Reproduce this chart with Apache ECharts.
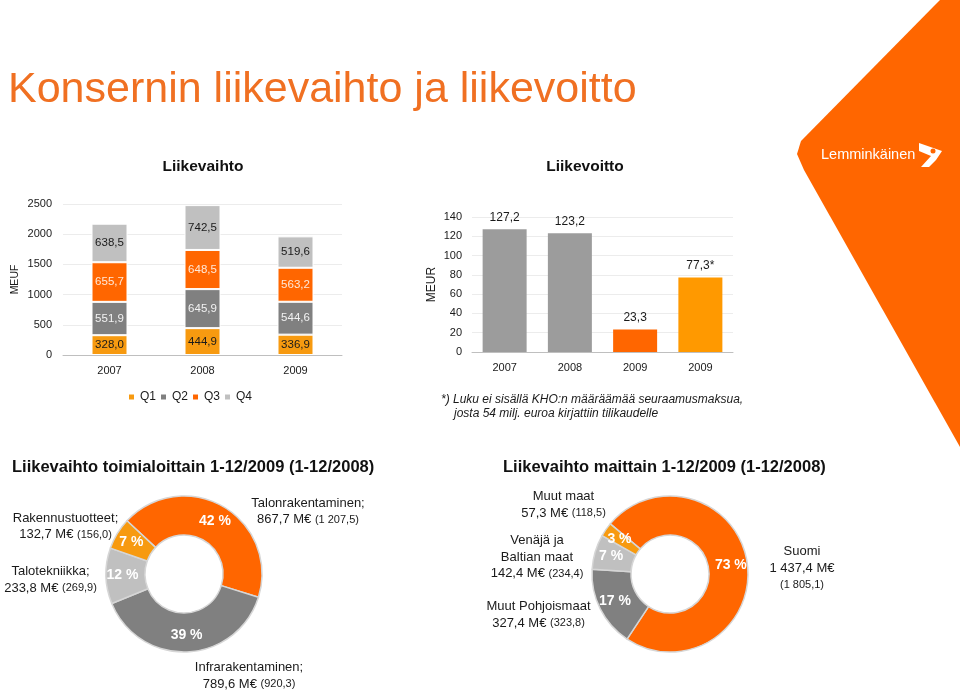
<!DOCTYPE html>
<html><head><meta charset="utf-8">
<script src="https://cdn.jsdelivr.net/npm/echarts@6/dist/echarts.min.js"></script>
<style>html,body{margin:0;padding:0;background:#fff}#c{width:960px;height:692px}</style>
</head><body><div id="c"></div>
<script>
// ---- data ----
const years = ['2007', '2008', '2009'];
const quarterNames = ['Q1', 'Q2', 'Q3', 'Q4'];
const q1 = [328.0, 444.9, 336.9];
const q2 = [551.9, 645.9, 544.6];
const q3 = [655.7, 648.5, 563.2];
const q4 = [638.5, 742.5, 519.6];
const revTicks = [0, 2500, 500];
const profitYears = ['2007', '2008', '2009', '2009'];
const profit = [127.2, 123.2, 23.3, 77.3];
const profitSuffix = ['', '', '', '*'];
const profitTicks = [0, 140, 20];
const segNames = ['Talonrakentaminen;', 'Infrarakentaminen;', 'Talotekniikka;', 'Rakennustuotteet;'];
const segValues = [867.7, 789.6, 233.8, 132.7];
const segPrev = [1207.5, 920.3, 269.9, 156.0];
const segPct = [42, 39, 12, 7];
const countryNames = ['Suomi', 'Muut Pohjoismaat', 'Venäjä ja\nBaltian maat', 'Muut maat'];
const countryValues = [1437.4, 327.4, 142.4, 57.3];
const countryPrev = [1805.1, 323.8, 234.4, 118.5];
const countryPct = [73, 17, 7, 3];
const footnote = ['*) Luku ei sisällä KHO:n määräämää seuraamusmaksua,', 'josta 54 milj. euroa kirjattiin tilikaudelle'];

// ---- styles ----
const FONT = 'Liberation Sans, Arial, Helvetica, sans-serif';
const ORANGE = '#FF6600', YEL = '#F79A10', DGRAY = '#808080', LGRAY = '#C0C0C0';
const qColors = [YEL, DGRAY, ORANGE, LGRAY];
const qLabelColors = ['#1a1a1a', '#f2f2f2', '#ffe8d8', '#1a1a1a'];
const profitColors = ['#9C9C9C', '#9C9C9C', ORANGE, '#FF9900'];
const segColors = [ORANGE, DGRAY, LGRAY, YEL];
const countryColors = [ORANGE, DGRAY, LGRAY, YEL];
const segLayout = [{x: 308, y: 511.5}, {x: 249, y: 676}, {x: 50.5, y: 580}, {x: 65.5, y: 526.5}];
const countryLayout = [{x: 802, y: 568, split: true}, {x: 538.5, y: 615}, {x: 537, y: 557}, {x: 563.5, y: 505}];

function fmt(v) {
  const parts = v.toFixed(1).split('.');
  return parts[0].replace(/\B(?=(\d{3})+(?!\d))/g, ' ') + ',' + parts[1];
}

const chart = echarts.init(document.getElementById('c'), null, {renderer: 'canvas'});

const richStyles = {
  n: {fontSize: 13, lineHeight: 16.5, fontFamily: FONT, fill: '#1a1a1a', color: '#1a1a1a'},
  v: {fontSize: 13, lineHeight: 16.5, fontFamily: FONT, fill: '#1a1a1a', color: '#1a1a1a'},
  p: {fontSize: 11, lineHeight: 16.5, fontFamily: FONT, fill: '#1a1a1a', color: '#1a1a1a'}
};

function outerLabel(name, val, prev, lay) {
  const nameLines = name.split('\n').map(s => '{n|' + s + '}');
  let lines;
  if (lay.split) lines = nameLines.concat(['{v|' + fmt(val) + ' M€}', '{p|(' + fmt(prev) + ')}']);
  else lines = nameLines.concat(['{v|' + fmt(val) + ' M€ }{p|(' + fmt(prev) + ')}']);
  return {
    type: 'text', x: lay.x, y: lay.y, silent: true,
    style: {text: lines.join('\n'), textAlign: 'center', textVerticalAlign: 'middle', rich: richStyles,
      fontSize: 13, fontFamily: FONT, fill: '#1a1a1a'}
  };
}

const graphics = [
  {type: 'text', x: 8, y: 90, style: {text: 'Konsernin liikevaihto ja liikevoitto', fontSize: 43, fontFamily: FONT, fill: '#F07022', textVerticalAlign: 'middle'}},
  {type: 'text', x: 203, y: 167, style: {text: 'Liikevaihto', fontSize: 15.5, fontWeight: 'bold', fontFamily: FONT, fill: '#111', textAlign: 'center', textVerticalAlign: 'middle'}},
  {type: 'text', x: 585, y: 167, style: {text: 'Liikevoitto', fontSize: 15.5, fontWeight: 'bold', fontFamily: FONT, fill: '#111', textAlign: 'center', textVerticalAlign: 'middle'}},
  {type: 'text', x: 441, y: 400, style: {text: footnote[0], fontSize: 12, fontStyle: 'italic', fontFamily: FONT, fill: '#1a1a1a', textVerticalAlign: 'middle'}},
  {type: 'text', x: 454, y: 414, style: {text: footnote[1], fontSize: 12, fontStyle: 'italic', fontFamily: FONT, fill: '#1a1a1a', textVerticalAlign: 'middle'}},
  {type: 'text', x: 12, y: 467, style: {text: 'Liikevaihto toimialoittain 1-12/2009 (1-12/2008)', fontSize: 16.5, fontWeight: 'bold', fontFamily: FONT, fill: '#111', textVerticalAlign: 'middle'}},
  {type: 'text', x: 503, y: 467, style: {text: 'Liikevaihto maittain 1-12/2009 (1-12/2008)', fontSize: 16.5, fontWeight: 'bold', fontFamily: FONT, fill: '#111', textVerticalAlign: 'middle'}},
  // logo
  {type: 'polygon', silent: true, shape: {points: [[940, 0], [960, 0], [960, 447], [804, 170], [797, 154], [801, 141], [935, 5]]}, style: {fill: ORANGE}},
  {type: 'text', x: 821, y: 155, style: {text: 'Lemminkäinen', fontSize: 14.5, fontFamily: FONT, fill: '#fff', textVerticalAlign: 'middle'}},
  {type: 'polygon', silent: true, shape: {points: [[919, 143], [942, 151], [936, 160], [929, 167], [921, 167], [931, 156], [919, 151]]}, style: {fill: '#fff'}},
  {type: 'circle', silent: true, shape: {cx: 933, cy: 151, r: 2.5}, style: {fill: ORANGE}}
];
segNames.forEach((n, i) => graphics.push(outerLabel(n, segValues[i], segPrev[i], segLayout[i])));
countryNames.forEach((n, i) => graphics.push(outerLabel(n, countryValues[i], countryPrev[i], countryLayout[i])));

const axisLabelStyle = {color: '#1a1a1a', fontSize: 11, fontFamily: FONT};

const quarterSeries = [q1, q2, q3, q4].map((arr, i) => ({
  name: quarterNames[i], type: 'bar', stack: 'rev', xAxisIndex: 0, yAxisIndex: 0,
  barWidth: 36, data: arr,
  itemStyle: {color: qColors[i], borderColor: '#fff', borderWidth: 1},
  label: {show: true, position: 'inside', formatter: p => fmt(p.value), color: qLabelColors[i], fontSize: 11.5, fontFamily: FONT},
  emphasis: {disabled: true}
}));

const option = {
  animation: false,
  backgroundColor: '#fff',
  textStyle: {fontFamily: FONT},
  legend: {
    data: quarterNames, left: 122, top: 386, itemWidth: 7, itemHeight: 7, itemGap: 3, icon: 'rect',
    selectedMode: false, textStyle: {fontSize: 12, color: '#1a1a1a', fontFamily: FONT}
  },
  grid: [
    {left: 63, right: 960 - 342, top: 204, bottom: 692 - 355},
    {left: 472, right: 960 - 733, top: 217, bottom: 692 - 352}
  ],
  xAxis: [
    {type: 'category', gridIndex: 0, data: years,
      axisLine: {lineStyle: {color: '#bfbfbf'}}, axisTick: {length: 4, lineStyle: {color: '#bfbfbf'}},
      axisLabel: Object.assign({margin: 10}, axisLabelStyle)},
    {type: 'category', gridIndex: 1, data: profitYears,
      axisLine: {lineStyle: {color: '#bfbfbf'}}, axisTick: {length: 4, interval: 1, lineStyle: {color: '#bfbfbf'}},
      axisLabel: Object.assign({margin: 10}, axisLabelStyle)}
  ],
  yAxis: [
    {type: 'value', gridIndex: 0, min: revTicks[0], max: revTicks[1], interval: revTicks[2],
      name: 'MEUF', nameLocation: 'middle', nameGap: 42, nameTextStyle: {fontSize: 10.5, color: '#1a1a1a'},
      axisLine: {show: false}, axisTick: {show: false},
      splitLine: {lineStyle: {color: '#ececec'}},
      axisLabel: Object.assign({margin: 11, formatter: v => String(v)}, axisLabelStyle)},
    {type: 'value', gridIndex: 1, min: profitTicks[0], max: profitTicks[1], interval: profitTicks[2],
      name: 'MEUR', nameLocation: 'middle', nameGap: 34, nameTextStyle: {fontSize: 12, color: '#1a1a1a'},
      axisLine: {show: false}, axisTick: {show: false},
      splitLine: {lineStyle: {color: '#ececec'}},
      axisLabel: Object.assign({margin: 10, formatter: v => String(v)}, axisLabelStyle)}
  ],
  series: quarterSeries.concat([
    {type: 'bar', xAxisIndex: 1, yAxisIndex: 1, barWidth: 44, data: profit,
      itemStyle: {color: p => profitColors[p.dataIndex]},
      label: {show: true, position: 'top', distance: 6, formatter: p => fmt(p.value) + profitSuffix[p.dataIndex],
        color: '#1a1a1a', fontSize: 12, fontFamily: FONT},
      emphasis: {disabled: true}},
    {type: 'pie', center: [184, 574], radius: [39, 78], startAngle: 137, clockwise: true, avoidLabelOverlap: false,
      data: segValues.map((v, i) => ({value: v, name: segNames[i], itemStyle: {color: segColors[i]}})),
      itemStyle: {borderColor: '#d6d6d6', borderWidth: 1.5},
      label: {show: true, position: 'inside', formatter: p => segPct[p.dataIndex] + ' %', color: '#fff', fontSize: 14, fontWeight: 'bold', fontFamily: FONT},
      labelLine: {show: false}, emphasis: {disabled: true}, silent: true},
    {type: 'pie', center: [670, 574], radius: [39, 78], startAngle: 140, clockwise: true, avoidLabelOverlap: false,
      data: countryValues.map((v, i) => ({value: v, name: countryNames[i], itemStyle: {color: countryColors[i]}})),
      itemStyle: {borderColor: '#d6d6d6', borderWidth: 1.5},
      label: {show: true, position: 'inside', formatter: p => countryPct[p.dataIndex] + ' %', color: '#fff', fontSize: 14, fontWeight: 'bold', fontFamily: FONT},
      labelLine: {show: false}, emphasis: {disabled: true}, silent: true}
  ]),
  graphic: graphics
};
chart.setOption(option);
</script>
</body></html>
